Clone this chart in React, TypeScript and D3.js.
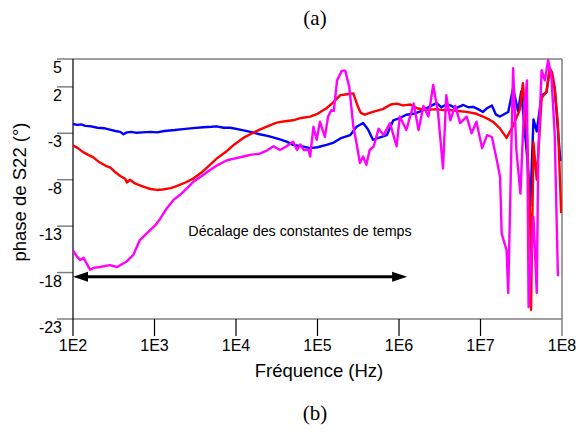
import React from "react";
import * as d3 from "d3";

// log10(frequency) and phase (deg) for each series
const blueLogF = [2.00,2.05,2.10,2.15,2.22,2.30,2.38,2.45,2.52,2.58,2.62,2.66,2.72,2.78,2.85,2.95,3.03,3.12,3.25,3.35,3.47,3.60,3.70,3.76,3.85,3.93,4.05,4.15,4.29,4.40,4.54,4.62,4.70,4.80,4.91,5.00,5.11,5.20,5.28,5.40,5.48,5.56,5.62,5.68,5.75,5.85,5.93,6.00,6.09,6.18,6.26,6.32,6.38,6.46,6.52,6.58,6.63,6.70,6.79,6.85,6.91,6.97,7.03,7.08,7.14,7.19,7.24,7.30,7.34,7.40,7.46,7.50,7.57,7.61,7.65,7.69,7.75,7.81,7.85,7.91,7.98];
const blueVal = [-2.0,-2.1,-2.05,-2.2,-2.25,-2.4,-2.45,-2.6,-2.75,-2.85,-3.1,-2.9,-2.85,-2.95,-2.9,-2.85,-2.9,-2.75,-2.65,-2.55,-2.45,-2.35,-2.3,-2.25,-2.4,-2.4,-2.6,-2.8,-3.1,-3.3,-3.65,-3.9,-4.25,-4.4,-4.6,-4.5,-4.25,-4.0,-3.55,-3.2,-2.3,-1.9,-2.6,-3.7,-3.5,-3.2,-1.6,-1.4,-1.0,-0.9,-0.65,-0.4,-0.1,0.25,-0.2,0.1,0.0,-0.3,0.05,-0.2,-0.15,-0.4,-0.7,-0.3,0.0,-1.0,-1.2,-0.9,-0.7,1.85,-0.6,1.5,-5.3,-10.9,-1.5,-2.8,1.1,1.4,4.0,1.8,-6.0];

const redLogF = [2.00,2.06,2.12,2.18,2.25,2.32,2.40,2.46,2.52,2.58,2.64,2.66,2.70,2.76,2.82,2.88,2.95,3.03,3.10,3.20,3.27,3.38,3.48,3.58,3.68,3.78,3.89,3.98,4.09,4.20,4.29,4.40,4.50,4.60,4.70,4.80,4.91,5.00,5.11,5.19,5.28,5.36,5.44,5.49,5.53,5.58,5.68,5.80,5.90,5.97,6.05,6.14,6.22,6.34,6.45,6.55,6.63,6.72,6.83,6.95,7.08,7.16,7.24,7.32,7.40,7.48,7.52,7.57,7.61,7.62,7.65,7.69,7.75,7.81,7.85,7.88,7.91,7.95,7.99];
const redVal = [-4.3,-4.6,-5.0,-5.3,-5.6,-6.1,-6.5,-6.7,-7.2,-7.6,-7.9,-8.3,-8.0,-8.4,-8.6,-8.8,-9.0,-9.1,-9.05,-8.9,-8.7,-8.3,-7.85,-7.2,-6.4,-5.6,-4.9,-4.2,-3.5,-3.0,-2.6,-2.2,-1.85,-1.7,-1.6,-1.35,-1.2,-0.9,-0.3,0.3,1.1,1.2,1.3,0.0,-0.8,-1.0,-0.7,-0.4,0.1,0.2,0.0,0.1,-0.3,-0.5,-0.4,-0.5,-0.5,-0.6,-0.7,-0.9,-1.4,-1.8,-2.5,-3.5,-2.2,-0.5,2.4,-3.2,-12.3,-22.0,-4.0,-8.0,0.8,1.5,4.0,3.5,2.0,-2.0,-11.6];

const magLogF = [2.00,2.05,2.09,2.13,2.16,2.21,2.25,2.33,2.45,2.54,2.62,2.66,2.74,2.82,2.88,2.95,3.01,3.07,3.15,3.23,3.31,3.40,3.48,3.58,3.68,3.78,3.89,3.99,4.09,4.19,4.29,4.37,4.46,4.54,4.62,4.70,4.75,4.79,4.83,4.89,4.91,4.95,4.99,5.03,5.09,5.13,5.17,5.20,5.24,5.30,5.34,5.39,5.44,5.48,5.52,5.56,5.60,5.64,5.69,5.75,5.81,5.89,5.97,6.01,6.09,6.18,6.24,6.30,6.36,6.42,6.48,6.54,6.58,6.63,6.69,6.75,6.83,6.89,6.95,7.02,7.08,7.14,7.20,7.24,7.26,7.32,7.34,7.40,7.44,7.49,7.53,7.57,7.59,7.65,7.69,7.71,7.75,7.79,7.83,7.87,7.91,7.95];
const magVal = [-15.6,-16.3,-16.65,-16.4,-16.9,-17.7,-17.5,-17.4,-17.2,-17.4,-17.0,-16.8,-16.1,-14.5,-14.0,-13.4,-12.9,-12.2,-11.1,-10.2,-9.65,-8.9,-8.2,-7.6,-6.95,-6.4,-5.9,-5.7,-5.5,-5.3,-5.2,-4.9,-4.4,-4.8,-4.4,-3.9,-4.8,-4.2,-4.8,-4.8,-5.5,-2.3,-3.7,-1.75,-3.4,-1.2,-0.5,-0.6,2.7,3.75,3.75,2.0,-2.3,-4.1,-6.2,-5.5,-6.4,-4.8,-4.4,-2.5,-3.2,-1.9,-4.4,-1.2,-2.65,0.2,-2.65,-0.05,-1.2,2.2,-0.85,-6.8,1.1,-1.6,-0.05,-1.9,-1.2,-3.0,-1.75,-4.6,-3.2,-3.4,-5.9,-7.7,-13.8,-15.6,-20.2,4.0,-4.8,-9.5,-1.2,2.7,-21.7,-12.0,-20.2,-4.8,3.8,2.7,4.9,3.1,-3.0,-18.4];

const yTicks = [5, 2, -3, -8, -13, -18, -23];
const xTickExp = [2, 3, 4, 5, 6, 7, 8];
const xTickLabels = ["1E2", "1E3", "1E4", "1E5", "1E6", "1E7", "1E8"];

const arrowFromExp = 2.0;
const arrowToExp = 6.1;
const arrowVal = -18.45;
const noteExp = 4.785;
const noteVal = -13.5;
const noteText = "Décalage des constantes de temps";

export default function App() {
  const W = 576, H = 439;
  const x = d3.scaleLog().domain([1e2, 1e8]).range([73, 562]);
  const y = d3.scaleLinear().domain([-23, 5]).range([319, 59]);
  const sans = "'Liberation Sans', Arial, sans-serif";
  const serif = "'Liberation Serif', 'Times New Roman', serif";

  const mk = (lf: number[], v: number[]) =>
    d3.line<number>().x((_, i) => x(Math.pow(10, lf[i]))).y((d) => y(d))(v) || "";

  const series = [
    { lf: blueLogF, v: blueVal, c: "#0000ff" },
    { lf: redLogF, v: redVal, c: "#ff0000" },
    { lf: magLogF, v: magVal, c: "#ff00ff" },
  ];
  const [x0, x1] = x.range();
  const [yb, yt] = y.range();
  const ax0 = x(Math.pow(10, arrowFromExp));
  const ax1 = x(Math.pow(10, arrowToExp));
  const ay = y(arrowVal);
  const ah = 15, aw = 5;

  return (
    <svg width={W} height={H} style={{ position: "absolute", left: 0, top: 0, background: "#fff" }}>
      <rect width={W} height={H} fill="#fff" />
      <text x={315} y={25} textAnchor="middle" fontFamily={serif} fontSize={21}>(a)</text>
      <text x={315} y={420} textAnchor="middle" fontFamily={serif} fontSize={21}>(b)</text>
      <defs>
        <clipPath id="pa">
          <rect x={x0} y={yt - 2} width={x1 - x0} height={yb - yt + 4} />
        </clipPath>
      </defs>
      {/* frame */}
      {yTicks.map((t) => (
        <line key={"g" + t} x1={57} x2={t === 5 || t === -23 ? x1 : x0} y1={y(t)} y2={y(t)} stroke="#7f7f7f" strokeWidth={1.5} />
      ))}
      <line x1={x1} x2={x1} y1={yt} y2={yb + 17} stroke="#7f7f7f" strokeWidth={1.5} />
      <line x1={x0} x2={x0} y1={yt} y2={yb + 17} stroke="#000" strokeWidth={1.2} />
      {xTickExp.slice(1, -1).map((e) => (
        <line key={"xt" + e} x1={x(Math.pow(10, e))} x2={x(Math.pow(10, e))} y1={yb} y2={yb + 17} stroke="#000" strokeWidth={1.2} />
      ))}
      {yTicks.map((t) => (
        <text key={"yl" + t} x={62} y={y(t) + 14} textAnchor="end" fontFamily={sans} fontSize={16}>{t}</text>
      ))}
      {xTickExp.map((e, i) => (
        <text key={"xl" + e} x={x(Math.pow(10, e))} y={351} textAnchor="middle" fontFamily={sans} fontSize={16}>{xTickLabels[i]}</text>
      ))}
      <text x={319} y={377} textAnchor="middle" fontFamily={sans} fontSize={18.5}>Fréquence (Hz)</text>
      <text transform="translate(26,192) rotate(-90)" textAnchor="middle" fontFamily={sans} fontSize={18.5}>phase de S22 (°)</text>
      <g clipPath="url(#pa)">
        {series.map((s, i) => (
          <path key={i} d={mk(s.lf, s.v)} fill="none" stroke={s.c} strokeWidth={2.4} strokeLinejoin="round" />
        ))}
      </g>
      <text x={x(Math.pow(10, noteExp))} y={y(noteVal) + 5} textAnchor="middle" fontFamily={sans} fontSize={14.3}>{noteText}</text>
      <line x1={ax0 + ah - 2} x2={ax1 - ah + 2} y1={ay} y2={ay} stroke="#000" strokeWidth={3} />
      <path d={`M${ax0},${ay} L${ax0 + ah},${ay - aw} L${ax0 + ah},${ay + aw} Z`} fill="#000" />
      <path d={`M${ax1},${ay} L${ax1 - ah},${ay - aw} L${ax1 - ah},${ay + aw} Z`} fill="#000" />
    </svg>
  );
}
